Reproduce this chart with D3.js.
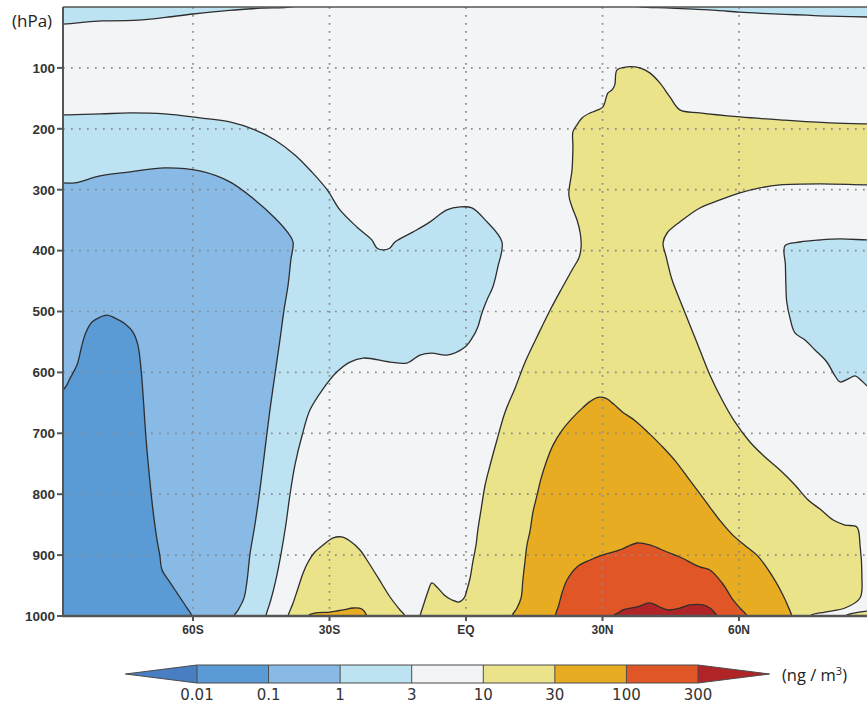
<!DOCTYPE html>
<html>
<head>
<meta charset="utf-8">
<script src="https://cdn.jsdelivr.net/npm/d3@7"></script>
<style>
  body { margin: 0; background: #ffffff; }
  svg { display: block; }
</style>
</head>
<body>
<svg id="chart" width="867" height="704"></svg>
<script>
// ---- colour classes (ng / m3) ----
const levelLabels = ["0.01", "0.1", "1", "3", "10", "30", "100", "300"];
const bandColors = ["#4a7ec3", "#5b9bd5", "#88bae5", "#bde3f3", "#f3f4f6",
                    "#ebe38a", "#e8ac23", "#e05627", "#b02428"];

// ---- axes ----
const latTicks = [-60, -30, 0, 30, 60];
const latTickLabels = ["60S", "30S", "EQ", "30N", "60N"];
const pressureTicks = [100, 200, 300, 400, 500, 600, 700, 800, 900, 1000];
const gridPressures = [100, 200, 300, 400, 500, 600, 700, 800, 900];

// ---- contour rings, [latitude, hPa]; rings close outside the plot frame ----
// 1-3 cap, upper southern stratosphere
const capSouth = [[-95,22.8],[-80,22.8],[-72,21.5],[-66,17],[-60,11.5],[-52,5.5],[-45,2],[-38,-0.5],[-32,-15],[-95,-15]];
// 1-3 cap, upper northern stratosphere
const capNorth = [[30,-15],[38,-0.5],[44,1.5],[50,3.5],[55,5.5],[60,8.5],[65,10.5],[70,12],[75,13.5],[80,15],[88.6,16.5],[95,17],[95,-15]];
// 1-3 southern region with tropical bulge
const southOuter = [[-95,177],[-88.6,177.2],[-80.4,175.6],[-73.8,173.9],[-66.2,175.6],[-58.5,182.1],[-51.9,188.7],[-46.4,201.8],[-42.0,218.3],[-37.6,242.9],[-33.9,270.8],[-30.5,300.4],[-27.7,333.2],[-24.0,361.1],[-20.7,382.5],[-19.6,395.6],[-18.2,398.9],[-16.7,395.6],[-15.6,385.8],[-11.6,369.3],[-7.9,352.9],[-4.2,333.2],[-1.3,328.3],[1.3,329.9],[4.2,349.6],[7.9,385.8],[7.0,426.8],[5.9,459.7],[4.6,481.0],[3.5,502.4],[2.6,525.4],[1.5,541.8],[-0.2,558.2],[-4.2,571.5],[-7.5,568.2],[-10.1,571.5],[-13.0,584.6],[-16.7,583.0],[-22.6,576.4],[-25.5,583.0],[-28.4,599.4],[-31.6,629.0],[-34.3,661.8],[-36.0,702.8],[-37.6,752.1],[-38.7,801.4],[-39.6,850.6],[-40.7,899.9],[-41.8,941.0],[-42.9,973.8],[-44.0,1000],[-44.4,1015],[-95,1015]];
// 0.1-1 southern region
const southMid = [[-95,289],[-88.6,288.9],[-86.0,288.9],[-80.4,277.4],[-73.8,270.8],[-66.2,264.2],[-58.5,269.2],[-51.9,287.2],[-46.4,316.8],[-42.0,346.4],[-39.1,371.0],[-38.0,385.9],[-38.5,415.4],[-39.1,456.5],[-40.0,497.6],[-40.9,546.9],[-42.0,604.3],[-43.1,661.8],[-44.2,727.5],[-45.3,793.2],[-46.4,850.6],[-47.5,899.9],[-48.1,941.0],[-48.8,970.6],[-50.1,990.3],[-51.0,1000],[-51.5,1015],[-95,1015]];
// 0.01-0.1 southern polar core
const southCore = [[-95,640],[-88.6,629.0],[-87.0,609.3],[-85.5,588.0],[-84.4,555.1],[-83.5,533.8],[-82.2,517.3],[-80.4,509.1],[-78.9,505.8],[-77.1,510.8],[-74.9,520.6],[-73.2,533.8],[-72.1,555.1],[-71.4,596.2],[-70.9,645.4],[-70.3,711.1],[-69.5,776.8],[-68.8,826.1],[-67.9,875.4],[-67.3,899.9],[-66.8,924.6],[-65.1,944.3],[-62.9,968.9],[-61.3,987.0],[-60.2,1000],[-59.8,1015],[-95,1015]];
// 1-3 Arctic pocket
const arcticPocket = [[70.1,392],[73.4,385.9],[77.8,382.6],[82.2,380.9],[88.6,382.6],[95,383],[95,625],[88.6,623.9],[87.0,614.1],[85.5,605.8],[84.0,610.8],[82.2,615.7],[81.1,605.8],[79.3,582.9],[76.7,563.1],[74.5,546.7],[72.3,535.2],[71.2,510.6],[70.5,484.4],[70.3,456.5],[70.2,423.6]];
// 10-30 northern plume
const plumeTen = [[-10.4,1015],[-10.1,1000],[-9.2,978.6],[-8.4,960.5],[-7.5,945.7],[-6.4,952.3],[-4.8,965.4],[-3.1,973.7],[-1.5,977.0],[-0.4,970.4],[0.2,957.3],[0.9,937.6],[1.5,911.3],[2.2,883.4],[2.6,858.8],[3.3,825.9],[4.2,784.9],[5.3,752.0],[6.8,711.0],[8.6,665.0],[10.8,625.6],[13.0,582.9],[15.8,538.6],[18.5,497.5],[21.1,461.4],[23.3,431.8],[24.8,412.1],[25.3,394.0],[25.1,371.1],[24.4,349.7],[23.3,328.3],[22.6,308.6],[23.3,267.6],[23.5,229.8],[23.5,205.1],[24.4,193.6],[25.5,182.1],[27.3,173.9],[29.0,169.0],[30.1,164.1],[31.2,141.1],[32.1,136.2],[32.7,127.9],[33.2,103.3],[35.4,98.4],[38.2,100.0],[40.4,108.2],[42.6,124.7],[44.8,147.6],[47.0,169.0],[51.4,173.9],[60.2,180.5],[69.0,185.4],[80.0,190.4],[88.6,192.0],[95,192.5],[95,292],[88.6,292.2],[77.8,290.5],[69.0,292.2],[64.6,297.1],[60.2,305.3],[55.8,316.8],[51.4,330.0],[47.0,353.0],[44.2,371.1],[43.3,387.5],[44.0,410.4],[45.3,448.3],[47.0,481.0],[49.2,522.1],[51.4,563.2],[53.6,604.2],[56.3,645.3],[59.1,681.4],[62.4,714.3],[65.7,738.9],[69.0,760.3],[72.3,784.9],[75.2,809.6],[77.8,824.4],[80.7,842.4],[83.3,850.6],[85.9,853.9],[86.6,883.4],[87.0,932.7],[86.6,970.4],[83.3,986.9],[78.9,993.5],[75.6,1000],[75.2,1015]];
// 10-30 southern subtropical hump
const humpTen = [[-39.4,1015],[-39.1,1000],[-38.0,978.6],[-36.9,954.0],[-35.8,929.3],[-34.7,911.3],[-33.4,896.5],[-31.4,883.4],[-29.2,871.8],[-27.3,870.2],[-25.5,876.8],[-23.3,891.6],[-21.5,911.3],[-19.3,937.5],[-16.7,968.8],[-14.5,990.1],[-13.4,1000],[-13.2,1015]];
// 10-30 Arctic surface rim
const rimTen = [[82,1015],[83.3,1000],[85.5,995],[88.6,991.8],[95,991],[95,1015]];
// 30-100 southern surface patch
const humpThirty = [[-35,1015],[-34.7,1000],[-33.2,995.1],[-29.9,993.5],[-27.0,990.1],[-24.8,986.9],[-22.9,988.5],[-21.8,1000],[-21.6,1015]];
// 30-100 northern plume
const plumeThirty = [[9.9,1015],[10.1,1000],[11.2,986.9],[12.1,970.4],[12.5,940.9],[13.0,908.1],[13.4,883.4],[14.1,859.5],[14.7,829.9],[15.6,802.0],[16.5,774.1],[17.6,747.8],[19.1,719.8],[21.1,695.2],[23.3,675.5],[25.5,659.1],[27.3,647.6],[29.0,641.0],[30.8,642.7],[32.5,652.5],[34.5,665.7],[37.1,678.8],[40.0,698.5],[43.1,721.5],[45.9,744.5],[49.2,777.3],[52.5,810.2],[55.8,843.0],[58.7,867.6],[61.3,884.1],[64.0,900.5],[65.9,918.6],[67.9,941.6],[69.7,966.2],[70.8,984.3],[71.6,1000],[71.8,1015]];
// 100-300 northern plume
const plumeHundred = [[19.4,1015],[19.6,1000],[20.4,981.9],[21.1,962.2],[22.2,940.9],[24.4,919.5],[27.3,908.0],[30.1,899.8],[33.8,891.6],[37.6,880.1],[40.4,883.4],[44.2,894.9],[47.0,903.1],[51.4,919.5],[53.6,924.4],[56.3,945.8],[58.7,973.7],[60.2,986.9],[61.8,1000],[62,1015]];
// >300 northern surface core
const plumeThreeHundred = [[32,1015],[32.3,1000],[33.4,995.1],[34.5,990.1],[37.6,985.2],[40.4,978.6],[42.6,985.2],[44.4,990.1],[47.0,986.9],[49.2,981.9],[52.1,981.9],[53.6,986.9],[54.5,993.5],[55.2,1000],[55.4,1015]];

// drawing order (outer bands first), with the class index of each fill
const layers = [
  { ring: capSouth, band: 3 },
  { ring: capNorth, band: 3 },
  { ring: southOuter, band: 3 },
  { ring: southMid, band: 2 },
  { ring: southCore, band: 1 },
  { ring: arcticPocket, band: 3 },
  { ring: plumeTen, band: 5 },
  { ring: humpTen, band: 5 },
  { ring: rimTen, band: 5 },
  { ring: humpThirty, band: 6 },
  { ring: plumeThirty, band: 6 },
  { ring: plumeHundred, band: 7 },
  { ring: plumeThreeHundred, band: 8 }
];

const svg = d3.select("#chart");
const plot = { left: 63, right: 869, top: 7, bottom: 616 };

const x = d3.scaleLinear().domain([-88.57, 88.57]).range([plot.left, plot.right]);
const y = d3.scaleLinear().domain([0, 1000]).range([plot.top, plot.bottom]);

svg.append("defs").append("clipPath").attr("id", "plot-clip")
  .append("rect")
  .attr("x", plot.left).attr("y", plot.top)
  .attr("width", plot.right - plot.left).attr("height", plot.bottom - plot.top);

const field = svg.append("g").attr("clip-path", "url(#plot-clip)");

// background class 3-10
field.append("rect")
  .attr("x", plot.left).attr("y", plot.top)
  .attr("width", plot.right - plot.left).attr("height", plot.bottom - plot.top)
  .attr("fill", bandColors[4]);

const ringPath = d3.line()
  .x(d => x(d[0])).y(d => y(d[1]))
  .curve(d3.curveCatmullRomClosed.alpha(0.5));

field.selectAll("path.fill").data(layers).join("path")
  .attr("class", "fill")
  .attr("d", d => ringPath(d.ring))
  .attr("fill", d => bandColors[d.band])
  .attr("stroke", "none");

// dotted grid
const grid = field.append("g")
  .attr("stroke", "#8a8a8a").attr("stroke-width", 1.7)
  .attr("stroke-dasharray", "1.7,6.3").attr("fill", "none");
grid.selectAll("line.v").data(latTicks).join("line")
  .attr("class", "v")
  .attr("x1", d => x(d)).attr("x2", d => x(d))
  .attr("y1", plot.top).attr("y2", plot.bottom);
grid.selectAll("line.h").data(gridPressures).join("line")
  .attr("class", "h")
  .attr("x1", plot.left).attr("x2", plot.right)
  .attr("y1", d => y(d)).attr("y2", d => y(d));

// contour lines
field.selectAll("path.edge").data(layers).join("path")
  .attr("class", "edge")
  .attr("d", d => ringPath(d.ring))
  .attr("fill", "none")
  .attr("stroke", "#2e2e2e")
  .attr("stroke-width", 1.3)
  .attr("stroke-linejoin", "round");

// frame
const frame = svg.append("g").attr("stroke", "#555").attr("fill", "none");
frame.append("line").attr("x1", plot.left).attr("x2", plot.right)
  .attr("y1", plot.top).attr("y2", plot.top).attr("stroke-width", 1.5);
frame.append("line").attr("x1", plot.left).attr("x2", plot.left)
  .attr("y1", plot.top).attr("y2", plot.bottom + 1).attr("stroke-width", 2);
frame.append("line").attr("x1", plot.left - 1).attr("x2", plot.right)
  .attr("y1", plot.bottom).attr("y2", plot.bottom).attr("stroke-width", 2.4);

// y axis
const yAxis = svg.append("g");
yAxis.selectAll("line").data(pressureTicks).join("line")
  .attr("x1", plot.left - 6).attr("x2", plot.left)
  .attr("y1", d => y(d)).attr("y2", d => y(d))
  .attr("stroke", "#555").attr("stroke-width", 2);
yAxis.selectAll("text").data(pressureTicks).join("text")
  .attr("x", plot.left - 8).attr("y", d => y(d))
  .attr("dy", "0.36em")
  .attr("text-anchor", "end")
  .attr("font-family", "Liberation Sans, Arial, sans-serif")
  .attr("font-weight", "bold").attr("font-size", 13.5)
  .attr("fill", "#333")
  .text(d => d);
svg.append("text")
  .attr("x", 12).attr("y", 27)
  .attr("font-family", "Open Sans, sans-serif")
  .attr("font-size", 17).attr("fill", "#222")
  .text("(hPa)");

// x axis
const xAxis = svg.append("g");
xAxis.selectAll("line").data(latTicks).join("line")
  .attr("x1", d => x(d)).attr("x2", d => x(d))
  .attr("y1", plot.bottom).attr("y2", plot.bottom + 5)
  .attr("stroke", "#555").attr("stroke-width", 2);
xAxis.selectAll("text").data(latTicks).join("text")
  .attr("x", d => x(d)).attr("y", plot.bottom + 18)
  .attr("text-anchor", "middle")
  .attr("font-family", "Liberation Sans, Arial, sans-serif")
  .attr("font-weight", "bold").attr("font-size", 12)
  .attr("fill", "#333")
  .text((d, i) => latTickLabels[i]);

// colour bar
const bar = { top: 665, bottom: 683 };
const lx = d3.scaleLinear().domain([0, levelLabels.length - 1]).range([197, 698]);
const mid = (bar.top + bar.bottom) / 2;
const legend = svg.append("g");

const segments = d3.range(levelLabels.length - 1);
legend.selectAll("rect").data(segments).join("rect")
  .attr("x", i => lx(i)).attr("y", bar.top)
  .attr("width", i => lx(i + 1) - lx(i)).attr("height", bar.bottom - bar.top)
  .attr("fill", i => bandColors[i + 1]);

legend.append("path")
  .attr("d", `M${lx(-1)},${mid}L${lx(0)},${bar.top}L${lx(0)},${bar.bottom}Z`)
  .attr("fill", bandColors[0]);
legend.append("path")
  .attr("d", `M${lx(levelLabels.length)},${mid}L${lx(levelLabels.length - 1)},${bar.top}L${lx(levelLabels.length - 1)},${bar.bottom}Z`)
  .attr("fill", bandColors[bandColors.length - 1]);

legend.selectAll("line.sep").data(d3.range(levelLabels.length)).join("line")
  .attr("class", "sep")
  .attr("x1", i => lx(i)).attr("x2", i => lx(i))
  .attr("y1", bar.top).attr("y2", bar.bottom)
  .attr("stroke", "#4a4a4a").attr("stroke-width", 1);

legend.append("path")
  .attr("d", `M${lx(-1)},${mid}L${lx(0)},${bar.top}L${lx(levelLabels.length - 1)},${bar.top}` +
             `L${lx(levelLabels.length)},${mid}L${lx(levelLabels.length - 1)},${bar.bottom}L${lx(0)},${bar.bottom}Z`)
  .attr("fill", "none").attr("stroke", "#4a4a4a").attr("stroke-width", 1);

legend.selectAll("text.lvl").data(levelLabels).join("text")
  .attr("class", "lvl")
  .attr("x", (d, i) => lx(i)).attr("y", 700)
  .attr("text-anchor", "middle")
  .attr("font-family", "DejaVu Sans, sans-serif")
  .attr("font-size", 15).attr("fill", "#333")
  .text(d => d);

const unit = legend.append("text")
  .attr("x", 782).attr("y", 681)
  .attr("font-family", "Open Sans, sans-serif")
  .attr("font-size", 16.5).attr("fill", "#222");
unit.append("tspan").text("(ng / m");
unit.append("tspan").attr("dy", -6).attr("font-size", 11).text("3");
unit.append("tspan").attr("dy", 6).text(")");
</script>
</body>
</html>
